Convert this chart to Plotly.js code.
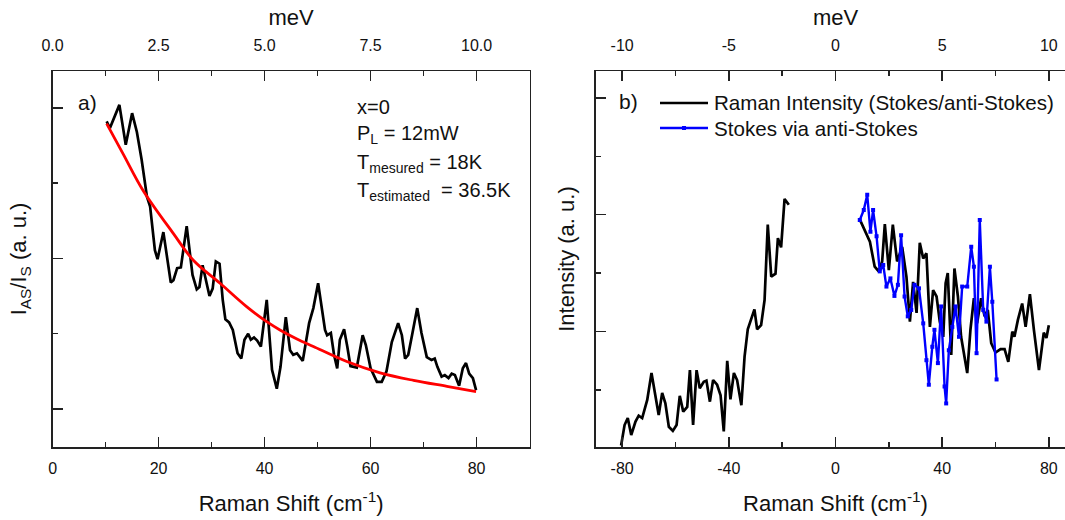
<!DOCTYPE html>
<html>
<head>
<meta charset="utf-8">
<script src="https://cdn.plot.ly/plotly-3.0.1.min.js"></script>
<style>
html,body{margin:0;padding:0;overflow:hidden;background:#fff;}
#chart{width:1076px;height:520px;}
</style>
</head>
<body>
<div id="chart"></div>
<script>
// ---------- Panel a data ----------
const aX = [10.2,10.8,12.6,13.8,15.0,15.9,16.8,17.8,18.4,19.3,19.8,20.9,22.3,22.8,23.5,24.2,25.3,26.4,27.2,27.7,28.3,28.9,29.6,30.2,30.8,31.5,32.1,32.6,33.3,34.0,34.9,35.6,36.2,36.9,37.4,38.0,38.6,39.3,40.4,41.4,42.3,43.0,44.0,44.8,45.4,46.1,47.2,48.4,49.2,50.1,51.4,51.8,52.5,53.1,53.7,54.2,55.0,55.6,56.2,57.4,58.5,59.1,60.0,61.2,62.1,63.0,64.0,65.2,65.9,66.5,67.1,67.9,68.8,69.6,70.6,71.5,72.1,72.6,73.4,74.0,74.7,75.3,75.9,76.7,77.4,78.0,78.6,79.3,79.9];
const aY = [4.82,4.73,5.04,4.51,4.93,4.68,4.31,3.82,3.69,3.11,2.99,3.35,2.68,2.71,2.87,2.88,3.43,2.78,2.59,2.62,2.91,2.71,2.50,2.60,2.96,2.93,2.45,2.19,2.15,2.05,1.74,1.67,1.92,2.00,1.92,1.95,1.91,1.83,2.45,1.52,1.27,1.56,2.22,1.78,1.72,1.74,1.64,2.14,2.34,2.67,2.05,1.98,2.01,1.72,1.54,1.92,2.06,1.83,1.57,1.55,1.98,1.85,1.54,1.36,1.36,1.50,1.89,2.14,1.98,1.67,1.72,2.01,2.34,2.01,1.69,1.65,1.67,1.56,1.43,1.45,1.41,1.47,1.45,1.31,1.54,1.61,1.47,1.41,1.25];
const fitX = [10.2,13.3,17.1,22.8,26.5,31.6,36.6,40.4,42.9,46.1,49.2,55.5,61.8,68.1,74.4,79.9];
const fitY = [4.79,4.39,3.90,3.33,2.98,2.67,2.36,2.16,2.05,1.93,1.83,1.63,1.48,1.38,1.30,1.23];

// ---------- Panel b data ----------
const antiX = [-80.4,-79.1,-77.9,-76.6,-75.0,-73.8,-72.5,-70.6,-69.0,-67.5,-66.3,-65.0,-63.8,-62.5,-61.0,-59.6,-58.4,-57.1,-55.6,-54.6,-53.4,-52.1,-50.9,-49.4,-48.4,-47.1,-45.9,-44.4,-43.1,-41.9,-40.6,-39.4,-38.1,-36.9,-35.3,-34.1,-32.9,-30.4,-29.4,-27.9,-26.6,-25.4,-24.1,-22.5,-21.6,-20.4,-19.1,-17.5];
const antiY = [0.05,0.40,0.52,0.23,0.46,0.56,0.52,0.83,1.29,0.89,0.57,0.95,0.77,0.37,0.30,0.40,0.90,0.63,0.71,1.34,0.40,1.34,1.03,1.14,1.16,0.80,1.17,1.09,0.91,0.29,1.50,0.84,1.29,1.17,0.74,1.57,2.04,2.38,2.04,2.11,2.54,3.83,2.94,2.99,3.60,3.44,4.27,4.17];
const stokesX = [9.1,12.9,14.7,16.2,17.5,18.5,20.0,21.5,23.1,25.0,26.6,27.9,29.1,30.4,31.6,32.9,34.1,35.4,36.6,37.9,39.1,40.4,41.3,42.1,43.4,44.6,45.9,47.1,49.4,50.6,51.9,53.1,54.6,55.9,57.1,58.4,60.0,61.9,63.4,64.8,66.3,67.1,68.4,70.0,71.3,72.9,74.4,76.3,78.1,79.1,80.0];
const stokesY = [3.92,3.54,3.11,3.03,3.20,3.84,3.05,3.83,3.20,3.45,2.94,2.17,2.85,2.32,3.52,3.25,3.34,2.08,2.71,2.60,2.17,1.91,2.83,3.00,1.60,3.08,2.60,1.91,1.29,2.03,2.57,2.14,2.57,2.26,2.37,1.80,1.64,1.70,1.70,1.48,2.00,1.91,2.20,2.48,2.08,2.64,2.03,1.34,1.98,1.89,2.11];
const viaX = [9.1,10.6,11.9,13.1,14.1,15.4,16.6,17.9,19.1,20.6,22.1,23.4,24.6,25.9,27.1,28.4,29.6,31.3,32.9,34.1,35.0,36.3,37.1,38.4,39.6,40.9,41.5,42.5,43.8,45.0,46.3,47.5,49.4,50.9,51.9,52.9,54.1,55.4,56.6,57.9,58.8,60.4];
const viaY = [3.91,4.08,4.34,3.71,4.08,3.63,3.03,3.14,2.77,2.91,2.61,2.80,3.65,2.60,2.26,2.37,2.80,2.74,2.14,1.51,1.09,1.74,2.03,1.46,2.43,1.06,0.77,1.68,2.08,2.43,1.91,2.77,2.77,3.45,3.11,1.63,3.91,2.37,2.17,3.11,2.51,1.18];

// ---------- Tick labels ----------
const aBottomTicks = [0, 20, 40, 60, 80];
const aBottomText = ['0', '20', '40', '60', '80'];
const aTopTicks = [0, 2.5, 5, 7.5, 10];
const aTopText = ['0.0', '2.5', '5.0', '7.5', '10.0'];
const bBottomTicks = [-80, -40, 0, 40, 80];
const bBottomText = ['-80', '-40', '0', '40', '80'];
const bTopTicks = [-10, -5, 0, 5, 10];
const bTopText = ['-10', '-5', '0', '5', '10'];
const seriesNames = ['Raman Intensity (Stokes/anti-Stokes)', 'Stokes via anti-Stokes'];

const rawX = antiX.concat([null], stokesX);
const rawY = antiY.concat([null], stokesY);

// ---------- Layout ----------
const W = 1076, H = 520;
const px = v => v / W;
const py = v => 1 - v / H;
const AX = '#222';
const TXT = '#111';
const FONT = 'Arial, "Liberation Sans", sans-serif';
const titleFont = {family: FONT, size: 22, color: TXT};

function baseAxis(extra) {
  return Object.assign({
    showline: true, linecolor: AX, linewidth: 1.5,
    ticks: 'inside', ticklen: 10, tickwidth: 1.5, tickcolor: AX,
    showgrid: false, zeroline: false, fixedrange: true, automargin: false,
    tickfont: {family: FONT, size: 16, color: TXT}
  }, extra);
}
const minor = d => ({dtick: d, ticks: 'inside', ticklen: 5, tickwidth: 1.5, tickcolor: AX, showgrid: false});

const domA = [px(52.6), px(529.6)];
const domB = [px(595.5), px(1075.5)];
const domY = [py(447), py(71)];

const traces = [
  {x: aX, y: aY, xaxis: 'x', yaxis: 'y', mode: 'lines', showlegend: false,
   line: {color: '#000', width: 2.7}, hoverinfo: 'skip'},
  {x: fitX, y: fitY, xaxis: 'x', yaxis: 'y', mode: 'lines', showlegend: false,
   line: {color: '#ff0000', width: 2.8, shape: 'spline', smoothing: 1}, hoverinfo: 'skip'},
  {x: [], y: [], xaxis: 'x2', yaxis: 'y', mode: 'lines', showlegend: false, hoverinfo: 'skip'},
  {x: rawX, y: rawY, xaxis: 'x3', yaxis: 'y2', mode: 'lines', name: seriesNames[0], showlegend: false,
   connectgaps: false, line: {color: '#000', width: 2.7}, hoverinfo: 'skip'},
  {x: viaX, y: viaY, xaxis: 'x3', yaxis: 'y2', mode: 'lines+markers', name: seriesNames[1], showlegend: false,
   line: {color: '#0000ff', width: 2.4}, marker: {symbol: 'square', size: 4, color: '#0000ff'}, hoverinfo: 'skip'},
  {x: [], y: [], xaxis: 'x4', yaxis: 'y2', mode: 'lines', showlegend: false, hoverinfo: 'skip'}
];

const T = (x, y, text, size, extra) => Object.assign({xref: 'paper', yref: 'paper', x: px(x), y: py(y),
  text: text, showarrow: false, font: {family: FONT, size: size, color: TXT},
  xanchor: 'left', yanchor: 'middle'}, extra || {});

const layout = {
  width: W, height: H,
  margin: {l: 0, r: 0, t: 0, b: 0},
  paper_bgcolor: '#fff', plot_bgcolor: '#fff',
  font: {family: FONT, size: 16, color: TXT},
  showlegend: false,
  xaxis: baseAxis({domain: domA, range: [0, 90], tickvals: aBottomTicks, ticktext: aBottomText,
                   minor: minor(10), anchor: 'y', ticklabelstandoff: 6,
                   title: {text: 'Raman Shift (cm<sup>-1</sup>)', font: titleFont, standoff: 20}}),
  xaxis2: baseAxis({domain: domA, range: [0, 11.25], tickvals: aTopTicks, ticktext: aTopText,
                    minor: minor(1.25), overlaying: 'x', side: 'top', anchor: 'y', ticklabelstandoff: 12,
                    title: {text: 'meV', font: titleFont, standoff: 5}}),
  yaxis: baseAxis({domain: domY, range: [0.495, 5.49], dtick: 2, tick0: 1, minor: minor(1),
                   showticklabels: false, mirror: true, anchor: 'x',
                   title: {text: 'I<sub>AS</sub>/I<sub>S</sub> (a. u.)', font: titleFont, standoff: 18}}),
  xaxis3: baseAxis({domain: domB, range: [-90, 90], tickvals: bBottomTicks, ticktext: bBottomText,
                    minor: minor(20), anchor: 'y2', ticklabelstandoff: 6,
                    title: {text: 'Raman Shift (cm<sup>-1</sup>)', font: titleFont, standoff: 20}}),
  xaxis4: baseAxis({domain: domB, range: [-11.25, 11.25], tickvals: bTopTicks, ticktext: bTopText,
                    minor: minor(2.5), overlaying: 'x3', side: 'top', anchor: 'y2', ticklabelstandoff: 12,
                    title: {text: 'meV', font: titleFont, standoff: 5}}),
  yaxis2: baseAxis({domain: domY, range: [0.024, 6.46], dtick: 2, tick0: 0, minor: minor(1),
                    showticklabels: false, mirror: true, anchor: 'x3',
                    title: {text: 'Intensity (a. u.)', font: titleFont, standoff: 13}}),
  shapes: [
    {type: 'line', xref: 'paper', yref: 'paper', x0: px(660), x1: px(708), y0: py(103), y1: py(103),
     line: {color: '#000', width: 2.7}},
    {type: 'line', xref: 'paper', yref: 'paper', x0: px(660), x1: px(708), y0: py(128), y1: py(128),
     line: {color: '#0000ff', width: 2.4}},
    {type: 'rect', xref: 'paper', yref: 'paper', x0: px(682), x1: px(686), y0: py(130), y1: py(126),
     line: {width: 0}, fillcolor: '#0000ff'}
  ],
  annotations: [
    T(76, 103, 'a)', 21),
    T(617, 102, 'b)', 21),
    T(355, 107, 'x=0', 20),
    T(355, 134, 'P<sub>L</sub> = 12mW', 20),
    T(355, 163, 'T<sub>mesured</sub> = 18K', 20),
    T(355, 191, 'T<sub>estimated</sub>&nbsp; = 36.5K', 20),
    T(712, 103, seriesNames[0], 20.6),
    T(712, 128, seriesNames[1], 20.6)
  ]
};

Plotly.newPlot('chart', traces, layout, {displayModeBar: false, staticPlot: true});
</script>
</body>
</html>
